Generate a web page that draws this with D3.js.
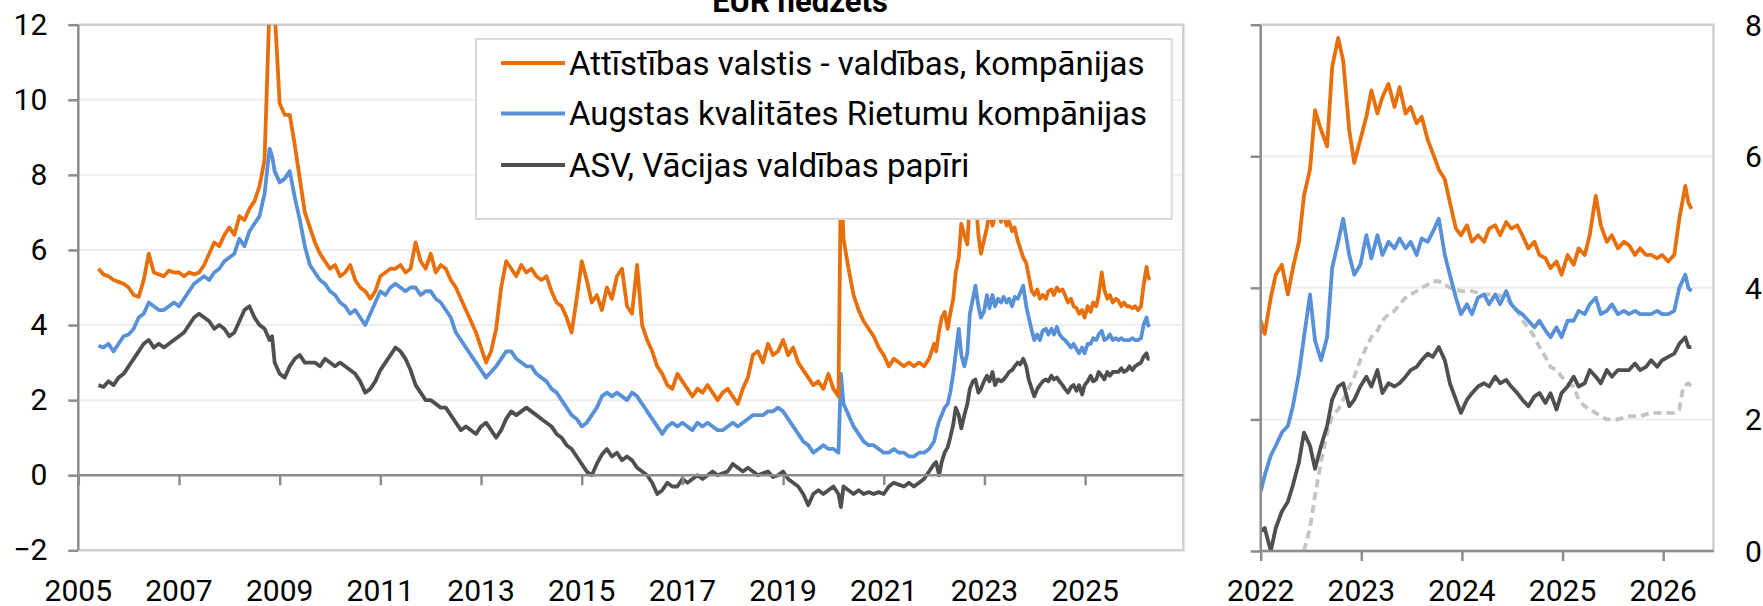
<!DOCTYPE html>
<html><head><meta charset="utf-8">
<script src="https://cdn.jsdelivr.net/npm/d3@7"></script>
<style>
body{margin:0;background:#fff}
svg{display:block}
text{font-family:Roboto,"Noto Sans",sans-serif;fill:#000}
</style></head>
<body><svg id="chart" width="1763" height="606"></svg>
<script>
const title = "EUR hedžēts";
const seriesNames = ["Attīstības valstis - valdības, kompānijas", "Augstas kvalitātes Rietumu kompānijas", "ASV, Vācijas valdības papīri"];

const dates = [
 2005.4,2005.5,2005.6,2005.7,2005.8,2005.9,
 2006.0,2006.1,2006.2,2006.3,2006.4,2006.5,2006.6,2006.7,2006.8,2006.9,
 2007.0,2007.1,2007.2,2007.3,2007.4,2007.5,2007.6,2007.7,2007.8,2007.9,
 2008.0,2008.1,2008.2,2008.3,2008.4,2008.5,2008.6,2008.7,2008.8,2008.85,2008.9,
 2009.0,2009.1,2009.2,2009.3,2009.4,2009.5,2009.6,2009.7,2009.8,2009.9,
 2010.0,2010.1,2010.2,2010.3,2010.4,2010.5,2010.6,2010.7,2010.8,2010.9,
 2011.0,2011.1,2011.2,2011.3,2011.4,2011.5,2011.6,2011.7,2011.8,2011.9,
 2012.0,2012.1,2012.2,2012.3,2012.4,2012.5,2012.6,2012.7,2012.8,2012.9,
 2013.0,2013.1,2013.2,2013.3,2013.4,2013.5,2013.6,2013.7,2013.8,2013.9,
 2014.0,2014.1,2014.2,2014.3,2014.4,2014.5,2014.6,2014.7,2014.8,2014.9,
 2015.0,2015.1,2015.2,2015.3,2015.4,2015.5,2015.6,2015.7,2015.8,2015.9,
 2016.0,2016.1,2016.2,2016.3,2016.4,2016.5,2016.6,2016.7,2016.8,2016.9,
 2017.0,2017.1,2017.2,2017.3,2017.4,2017.5,2017.6,2017.7,2017.8,2017.9,
 2018.0,2018.1,2018.2,2018.3,2018.4,2018.5,2018.6,2018.7,2018.8,2018.9,
 2019.0,2019.1,2019.2,2019.3,2019.4,2019.5,2019.6,2019.7,2019.8,2019.9,
 2020.0,2020.1,2020.15,2020.2,2020.3,2020.4,2020.5,2020.6,2020.7,2020.8,2020.9,
 2021.0,2021.1,2021.2,2021.3,2021.4,2021.5,2021.6,2021.7,2021.8,2021.9,
 2022.0,
 2022.04,2022.10,2022.15,2022.21,2022.27,2022.32,2022.38,2022.43,2022.49,2022.54,2022.60,2022.66,2022.71,2022.77,2022.82,2022.88,2022.93,2022.99,
 2023.05,2023.10,2023.16,2023.21,2023.27,2023.33,2023.38,2023.44,2023.49,2023.55,2023.60,2023.66,2023.71,2023.77,2023.83,2023.88,2023.94,2023.99,
 2024.05,2024.10,2024.16,2024.22,2024.27,2024.33,2024.38,2024.44,2024.49,2024.55,2024.60,2024.66,2024.72,2024.77,2024.83,2024.88,2024.94,2024.99,
 2025.05,2025.11,2025.16,2025.22,2025.27,2025.33,2025.38,2025.44,2025.49,2025.55,2025.61,2025.66,2025.72,2025.77,2025.83,2025.88,2025.94,2025.99,
 2026.05,2026.11,2026.16,2026.22,2026.25,2026.28
];

const emVals = [
 5.5,5.35,5.3,5.2,5.15,5.1,
 5.0,4.8,4.75,5.2,5.9,5.4,5.35,5.3,5.45,5.4,
 5.4,5.3,5.4,5.35,5.4,5.6,5.9,6.2,6.1,6.4,
 6.6,6.4,6.9,6.8,7.1,7.3,7.7,8.4,12.6,13.5,12.4,
 9.9,9.6,9.6,8.8,7.9,7.0,6.6,6.2,5.9,5.7,
 5.5,5.6,5.3,5.4,5.6,5.2,5.0,4.9,4.7,4.9,
 5.3,5.4,5.5,5.5,5.6,5.4,5.5,6.2,5.7,5.5,
 5.9,5.4,5.6,5.5,5.2,5.0,4.7,4.4,4.1,3.8,
 3.4,3.0,3.3,3.9,5.0,5.7,5.5,5.3,5.6,5.4,
 5.5,5.3,5.2,5.3,4.9,4.6,4.5,4.2,3.8,4.7,
 5.7,5.2,4.6,4.8,4.4,5.0,4.7,5.3,5.5,4.5,
 4.3,5.6,4.0,3.6,3.3,2.9,2.7,2.4,2.3,2.7,
 2.5,2.3,2.1,2.3,2.2,2.4,2.2,2.0,2.2,2.3,
 2.1,1.9,2.3,2.6,3.2,3.3,3.0,3.5,3.2,3.3,
 3.6,3.2,3.4,3.0,2.8,2.6,2.4,2.5,2.3,2.7,
 2.3,2.1,8.2,6.3,5.5,4.8,4.4,4.1,3.9,3.7,3.4,
 3.2,2.9,3.1,3.0,2.9,3.0,2.9,3.0,2.9,3.1,
 3.5,
 3.3,3.85,4.2,4.35,3.9,4.3,4.7,5.4,5.8,6.7,6.4,6.15,7.35,7.8,7.45,6.4,5.9,6.25,
 6.6,7.0,6.65,6.9,7.1,6.75,7.05,6.65,6.75,6.5,6.6,6.25,6.05,5.8,5.65,5.3,4.9,4.8,
 4.95,4.7,4.8,4.7,4.9,4.95,4.8,5.0,4.9,4.95,4.8,4.6,4.7,4.5,4.45,4.3,4.4,4.2,
 4.5,4.35,4.6,4.5,4.8,5.4,4.95,4.7,4.8,4.6,4.7,4.65,4.5,4.6,4.5,4.5,4.45,4.5,
 4.4,4.5,5.05,5.55,5.3,5.2
];

const igVals = [
 3.45,3.4,3.5,3.3,3.5,3.7,
 3.75,3.9,4.2,4.3,4.6,4.5,4.4,4.4,4.5,4.6,
 4.5,4.7,4.9,5.1,5.2,5.3,5.2,5.4,5.5,5.7,
 5.8,5.9,6.3,6.1,6.5,6.7,6.9,7.5,8.7,8.5,8.1,
 7.8,7.9,8.1,7.4,6.8,6.1,5.6,5.4,5.2,5.1,
 4.9,4.8,4.6,4.5,4.3,4.4,4.2,4.0,4.3,4.6,
 4.9,4.8,5.0,5.1,5.0,4.9,5.0,5.0,4.8,4.9,
 4.9,4.7,4.6,4.4,4.2,3.8,3.6,3.4,3.2,3.0,
 2.8,2.6,2.75,2.9,3.1,3.3,3.3,3.1,3.0,2.9,
 2.9,2.7,2.6,2.5,2.3,2.2,2.0,1.8,1.6,1.5,
 1.3,1.4,1.6,1.8,2.1,2.2,2.1,2.2,2.1,2.0,
 2.2,2.1,1.9,1.7,1.5,1.3,1.1,1.3,1.4,1.3,
 1.4,1.3,1.2,1.4,1.3,1.4,1.3,1.2,1.2,1.3,
 1.4,1.3,1.4,1.5,1.6,1.6,1.6,1.7,1.7,1.8,
 1.7,1.5,1.3,1.1,0.9,0.8,0.6,0.7,0.8,0.7,
 0.7,0.6,2.7,1.9,1.6,1.3,1.1,0.9,0.8,0.8,0.7,
 0.6,0.6,0.7,0.6,0.6,0.5,0.5,0.6,0.6,0.7,
 0.9,
 1.15,1.45,1.6,1.8,1.9,2.2,2.7,3.25,3.9,3.2,2.9,3.25,4.3,4.7,5.05,4.5,4.2,4.35,
 4.8,4.45,4.8,4.5,4.7,4.6,4.75,4.6,4.7,4.5,4.75,4.7,4.85,5.05,4.5,4.2,3.85,3.6,
 3.75,3.6,3.85,3.9,3.75,3.9,3.75,3.95,3.75,3.65,3.6,3.5,3.4,3.5,3.35,3.25,3.4,3.25,
 3.5,3.5,3.65,3.6,3.75,3.85,3.6,3.65,3.75,3.6,3.65,3.6,3.65,3.6,3.6,3.6,3.65,3.6,
 3.6,3.65,4.0,4.2,4.0,3.95
];

const govVals = [
 2.4,2.35,2.5,2.4,2.6,2.7,
 2.9,3.1,3.3,3.5,3.6,3.4,3.5,3.4,3.5,3.6,
 3.7,3.8,4.0,4.2,4.3,4.2,4.1,3.9,4.0,3.9,
 3.7,3.8,4.1,4.4,4.5,4.2,4.0,3.9,3.6,3.7,3.0,
 2.7,2.6,2.9,3.1,3.2,3.0,3.0,3.0,2.9,3.1,
 3.0,2.9,3.0,2.9,2.8,2.7,2.5,2.2,2.3,2.5,
 2.8,3.0,3.2,3.4,3.3,3.1,2.8,2.4,2.2,2.0,
 2.0,1.9,1.8,1.8,1.6,1.4,1.2,1.3,1.2,1.1,
 1.3,1.4,1.2,1.0,1.2,1.5,1.7,1.6,1.7,1.8,
 1.7,1.6,1.5,1.4,1.3,1.1,1.0,0.8,0.7,0.5,
 0.3,0.1,0.0,0.3,0.55,0.7,0.5,0.6,0.4,0.5,
 0.4,0.2,0.1,0.0,-0.2,-0.5,-0.4,-0.2,-0.3,-0.3,
 -0.1,-0.2,-0.1,0.0,-0.1,0.0,0.1,0.0,0.05,0.1,
 0.3,0.2,0.1,0.2,0.1,0.0,0.05,0.1,-0.05,0.0,
 0.1,-0.1,-0.2,-0.3,-0.5,-0.8,-0.5,-0.4,-0.5,-0.4,
 -0.3,-0.5,-0.85,-0.3,-0.4,-0.5,-0.4,-0.5,-0.45,-0.5,-0.45,
 -0.5,-0.3,-0.2,-0.25,-0.3,-0.2,-0.3,-0.2,-0.1,0.1,
 0.3,
 0.35,0.0,0.35,0.6,0.75,1.0,1.35,1.8,1.6,1.25,1.6,1.9,2.3,2.5,2.55,2.2,2.3,2.5,
 2.65,2.5,2.75,2.4,2.55,2.5,2.55,2.65,2.75,2.8,2.9,3.0,2.95,3.1,2.9,2.55,2.3,2.1,
 2.3,2.4,2.5,2.55,2.5,2.65,2.55,2.6,2.5,2.4,2.3,2.2,2.35,2.4,2.25,2.4,2.15,2.4,
 2.5,2.65,2.5,2.55,2.75,2.65,2.55,2.75,2.65,2.75,2.75,2.75,2.85,2.75,2.8,2.9,2.8,2.9,
 2.95,3.0,3.15,3.25,3.1,3.1
];

const rateDates = [2022.43,2022.49,2022.54,2022.60,2022.66,2022.71,2022.77,2022.82,2022.88,2022.93,2022.99,
 2023.05,2023.10,2023.16,2023.21,2023.27,2023.33,2023.38,2023.44,2023.49,2023.55,2023.60,2023.66,2023.71,2023.77,2023.83,2023.88,2023.99,
 2024.10,2024.22,2024.33,2024.44,2024.49,2024.55,2024.60,2024.66,2024.72,2024.77,2024.83,2024.88,2024.94,2024.99,
 2025.05,2025.11,2025.16,2025.22,2025.27,2025.33,2025.38,2025.44,2025.55,2025.66,2025.77,2025.88,2025.99,
 2026.11,2026.16,2026.20,2026.25,2026.28];
const rateVals = [0.0,0.35,0.85,1.35,1.8,2.05,2.15,2.3,2.5,2.65,2.9,
 3.1,3.25,3.35,3.5,3.6,3.65,3.75,3.85,3.9,3.95,4.0,4.05,4.1,4.1,4.05,4.0,3.95,
 3.95,3.9,3.9,3.85,3.75,3.65,3.5,3.4,3.25,3.1,2.95,2.8,2.75,2.65,
 2.55,2.5,2.3,2.2,2.15,2.1,2.05,2.0,2.0,2.05,2.05,2.1,2.1,
 2.1,2.15,2.5,2.55,2.5];

const leftXTicks = [2005,2007,2009,2011,2013,2015,2017,2019,2021,2023,2025];
const leftYTicks = [-2,0,2,4,6,8,10,12];
const rightXTicks = [2022,2023,2024,2025,2026];
const rightYTicks = [0,2,4,6,8];

const colors = ["#E8700C", "#5891D7", "#4F4F4F"];
const rateColor = "#C4C4C4";
const axisColor = "#8C8C8C";
const borderColor = "#CFCFCF";
const gridColor = "#EDEDED";
const FS = 30;

const svg = d3.select("#chart");
const rows = dates.map((d, i) => ({d, v: [emVals[i], igVals[i], govVals[i]]}));

const xL = d3.scaleLinear().domain([2005, 2026.95]).range([78.3, 1183.3]);
const yL = d3.scaleLinear().domain([-2, 12]).range([550.3, 24.7]);
const xR = d3.scaleLinear().domain([2022, 2026.5]).range([1260.7, 1713.5]);
const yR = d3.scaleLinear().domain([0, 8]).range([551, 24.7]);

function panel(g, x, y, yTicks, zeroVal, id) {
  const [x0, x1] = x.range();
  const [yb, yt] = y.range();
  g.append("g").selectAll("line")
    .data(yTicks.filter(t => t !== zeroVal && t !== y.domain()[0] && t !== y.domain()[1]))
    .join("line").attr("x1", x0).attr("x2", x1).attr("y1", d => y(d)).attr("y2", d => y(d))
    .attr("stroke", gridColor).attr("stroke-width", 2);
  g.append("path").attr("d", `M${x0},${yt}H${x1}V${yb}H${x0}`).attr("fill", "none")
    .attr("stroke", borderColor).attr("stroke-width", 2.5);
  svg.append("clipPath").attr("id", id).append("rect")
    .attr("x", x0).attr("y", yt).attr("width", x1 - x0).attr("height", yb - yt);
}

const gL = svg.append("g");
panel(gL, xL, yL, leftYTicks, 0, "clipL");
const gR = svg.append("g");
panel(gR, xR, yR, rightYTicks, 0, "clipR");

function drawSeries(g, x, y, data, clip) {
  const lg = g.append("g").attr("clip-path", `url(#${clip})`);
  [2, 1, 0].forEach(k => {
    const line = d3.line().x(r => x(r.d)).y(r => y(r.v[k]));
    lg.append("path").datum(data).attr("d", line).attr("fill", "none")
      .attr("stroke", colors[k]).attr("stroke-width", 3.8).attr("stroke-linejoin", "round");
  });
  return lg;
}
drawSeries(gL, xL, yL, rows, "clipL");
const lgR = drawSeries(gR, xR, yR, rows.filter(r => r.d >= 2022), "clipR");
const rateRows = rateDates.map((d, i) => ({d, v: rateVals[i]}));
lgR.insert("path", ":first-child").datum(rateRows)
  .attr("d", d3.line().x(r => xR(r.d)).y(r => yR(r.v)))
  .attr("fill", "none").attr("stroke", rateColor).attr("stroke-width", 3.8)
  .attr("stroke-dasharray", "8,5");

const axL = gL.append("g").attr("transform", `translate(${xL.range()[0]},0)`)
  .call(d3.axisLeft(yL).tickValues(leftYTicks).tickSize(10).tickPadding(21).tickFormat(d3.format("d")));
const axLx = gL.append("g").attr("transform", `translate(0,${yL(0)})`)
  .call(d3.axisBottom(xL).tickValues(leftXTicks).tickSize(10).tickFormat(""));
gL.append("g").selectAll("text").data(leftXTicks).join("text")
  .attr("x", d => xL(d)).attr("y", 601).attr("text-anchor", "middle")
  .attr("font-size", FS).text(d => d);

const axR = gR.append("g").attr("transform", `translate(${xR.range()[0]},0)`)
  .call(d3.axisLeft(yR).tickValues(rightYTicks).tickSize(10).tickFormat(""));
const axRx = gR.append("g").attr("transform", `translate(0,${yR(0)})`)
  .call(d3.axisBottom(xR).tickValues(rightXTicks).tickSize(10).tickFormat(""));
gR.append("g").selectAll("text").data(rightXTicks).join("text")
  .attr("x", d => xR(d)).attr("y", 601).attr("text-anchor", "middle")
  .attr("font-size", FS).text(d => d);
gR.append("g").selectAll("text").data(rightYTicks).join("text")
  .attr("x", 1745).attr("y", d => yR(d)).attr("dy", "0.36em").attr("text-anchor", "start")
  .attr("font-size", FS).text(d => d);

[axL, axLx, axR, axRx].forEach(a => {
  a.select(".domain").attr("stroke", axisColor).attr("stroke-width", 2.5);
  a.selectAll(".tick line").attr("stroke", axisColor).attr("stroke-width", 2.5);
  a.selectAll(".tick text").attr("font-size", FS).attr("font-family", "Roboto").attr("fill", "#000");
});
axLx.select(".domain").attr("d", `M${xL.range()[0]},0H${xL.range()[1]}`);
axRx.select(".domain").attr("d", `M${xR.range()[0]},0H${xR.range()[1]}`);
axL.select(".domain").attr("d", `M0,${yL.range()[1]}V${yL.range()[0]}`);
axR.select(".domain").attr("d", `M0,${yR.range()[1]}V${yR.range()[0]}`);

const lgd = svg.append("g");
lgd.append("rect").attr("x", 476).attr("y", 39).attr("width", 1171.7 - 476).attr("height", 180)
  .attr("fill", "#fff").attr("stroke", "#DADADA").attr("stroke-width", 2);
const legendY = [63, 113.5, 165];
seriesNames.forEach((name, i) => {
  lgd.append("line").attr("x1", 501).attr("x2", 565).attr("y1", legendY[i]).attr("y2", legendY[i])
    .attr("stroke", colors[i]).attr("stroke-width", 3.8);
  lgd.append("text").attr("x", 569).attr("y", legendY[i]).attr("dy", "0.36em")
    .attr("font-size", 33).text(name);
});

svg.append("text").attr("x", 800).attr("y", 12).attr("text-anchor", "middle")
  .attr("font-size", 31).attr("font-weight", "bold").text(title);
</script>
</body></html>
